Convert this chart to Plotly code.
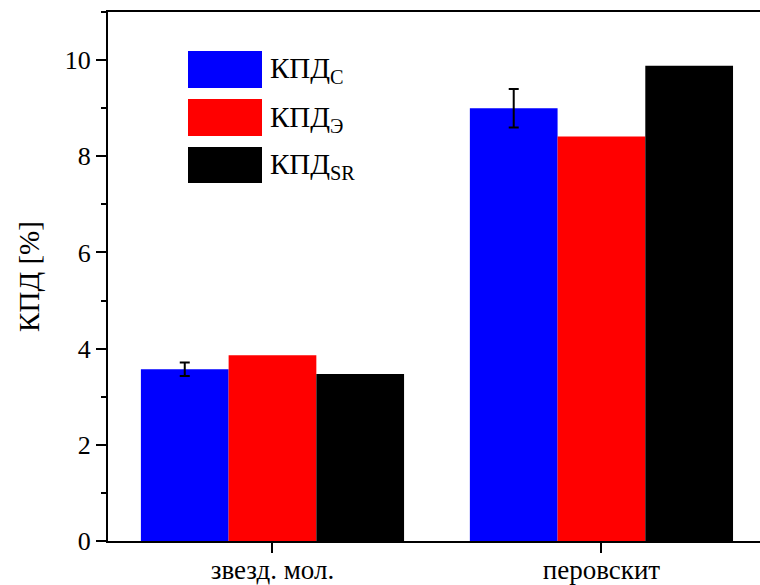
import plotly.graph_objects as go

# Categories and series values
categories = ["звезд. мол.", "перовскит"]
series_names = ["КПД<sub>C</sub>", "КПД<sub>Э</sub>", "КПД<sub>SR</sub>"]
eff_c = [3.57, 9.00]
eff_c_err = [0.14, 0.40]
eff_e = [3.86, 8.41]
eff_sr = [3.47, 9.88]
colors = ["#0000ff", "#ff0000", "#000000"]

W, H = 760, 585
L, R, T, B = 108, 0, 12, 44
FONT = "Liberation Serif"

fig = go.Figure()
fig.add_bar(x=categories, y=eff_c, name=series_names[0], marker_color=colors[0],
            marker_line_width=0,
            error_y=dict(type="data", array=eff_c_err, visible=True,
                         color="black", thickness=2, width=5))
fig.add_bar(x=categories, y=eff_e, name=series_names[1], marker_color=colors[1],
            marker_line_width=0)
fig.add_bar(x=categories, y=eff_sr, name=series_names[2], marker_color=colors[2],
            marker_line_width=0)

# Hand-placed legend with large swatches (pixel -> paper helpers)
pw, ph = W - L - R, H - T - B
def px(x):
    return (x - L) / pw
def py(y):
    return (H - B - y) / ph

rows = [(51, 88), (99, 136), (147, 183)]
for (y0, y1), name, col in zip(rows, series_names, colors):
    fig.add_shape(type="rect", xref="paper", yref="paper",
                  x0=px(188), x1=px(262), y0=py(y1), y1=py(y0),
                  fillcolor=col, line_width=0, layer="above")
    fig.add_annotation(xref="paper", yref="paper", x=px(268), y=py((y0 + y1) / 2 + 1),
                       xanchor="left", yanchor="middle", showarrow=False,
                       text=name, font=dict(family=FONT, size=29, color="black"))

fig.update_layout(
    width=W, height=H,
    margin=dict(l=L, r=R, t=T, b=B),
    barmode="group", bargap=0.2, bargroupgap=0,
    showlegend=False,
    plot_bgcolor="white", paper_bgcolor="white",
    font=dict(family=FONT, size=26, color="black"),
    xaxis=dict(
        range=[-0.5, 1.482], showline=True, linecolor="black", linewidth=2,
        mirror=True, ticks="outside", ticklen=10, tickwidth=2, tickcolor="black",
        showgrid=False, zeroline=False, automargin=False,
        ticklabelstandoff=-6,
        tickfont=dict(family=FONT, size=27, color="black"),
    ),
    yaxis=dict(
        range=[0, 11], dtick=2, tick0=0, showline=True, linecolor="black", linewidth=2,
        ticks="outside", ticklen=10, tickwidth=2, tickcolor="black",
        minor=dict(dtick=1, tick0=0, ticks="outside", ticklen=5, tickwidth=2,
                   tickcolor="black"),
        showgrid=False, zeroline=False,
        tickfont=dict(family=FONT, size=26, color="black"),
        title=dict(text="КПД [%]", font=dict(family=FONT, size=29, color="black"),
                   standoff=17),
    ),
)

fig.write_html("out.html")
